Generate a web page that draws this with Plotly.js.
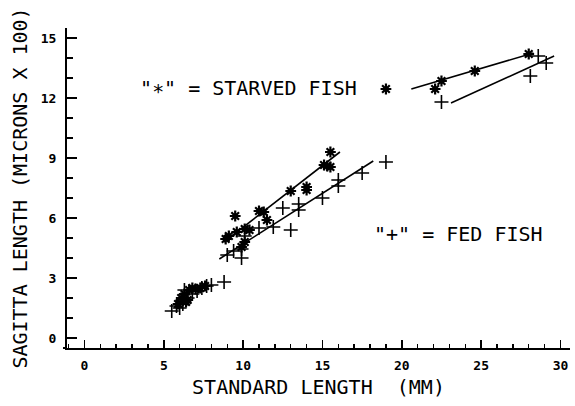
<!DOCTYPE html>
<html>
<head>
<meta charset="utf-8">
<script src="https://cdn.plot.ly/plotly-3.0.1.min.js"></script>
<style>html,body{margin:0;padding:0;background:#fff;}#chart{width:575px;height:406px;}</style>
</head>
<body>
<div id="chart"></div>
<script>
// Starved fish ("*") measurements
const starvedX = [5.9, 6.1, 6.3, 6.5, 6.6, 6.8, 7.0, 7.3, 7.6, 6.4,
  8.9, 9.1, 9.5, 9.6, 9.9, 10.1, 10.1, 10.4, 11.0, 11.3, 11.5, 13.0, 14.0, 14.0, 15.1, 15.3, 15.5, 15.5,
  19.0, 22.1, 22.5, 24.6, 28.0];
const starvedY = [1.7, 2.0, 2.2, 1.9, 2.4, 2.5, 2.45, 2.5, 2.6, 1.8,
  4.95, 5.1, 6.1, 5.3, 4.55, 4.8, 5.45, 5.4, 6.35, 6.3, 5.9, 7.35, 7.55, 7.4, 8.65, 8.6, 8.55, 9.3,
  12.45, 12.45, 12.85, 13.35, 14.2];
// Fed fish ("+") measurements
const fedX = [5.5, 5.8, 6.0, 6.2, 6.5, 6.8, 7.1, 7.4, 7.7, 8.0, 8.8, 6.3,
  9.0, 9.4, 9.9, 9.9, 10.1, 11.0, 11.9, 12.5, 13.0, 13.5, 13.5, 15.0, 16.0, 16.0, 17.5, 19.0,
  22.5, 28.1, 28.6, 29.1];
const fedY = [1.35, 1.6, 1.5, 1.7, 2.0, 2.2, 2.35, 2.5, 2.6, 2.65, 2.8, 2.4,
  4.15, 4.35, 4.45, 4.0, 5.1, 5.5, 5.55, 6.5, 5.4, 6.7, 6.4, 7.0, 7.9, 7.6, 8.25, 8.8,
  11.8, 13.1, 14.1, 13.75];
// Fitted lines (endpoints)
const starvedLineMidX = [8.8, 16.1];
const starvedLineMidY = [4.8, 9.3];
const fedLineMidX = [8.5, 18.2];
const fedLineMidY = [3.95, 8.85];
const starvedLineUpX = [20.6, 28.3];
const starvedLineUpY = [12.45, 14.25];
const fedLineUpX = [23.1, 29.6];
const fedLineUpY = [11.75, 14.1];

const xTicks = [0, 5, 10, 15, 20, 25, 30];
const yTicks = [0, 3, 6, 9, 12, 15];

const lineStyle = {color: '#000', width: 1.6};
const traces = [
  {x: starvedLineMidX, y: starvedLineMidY, mode: 'lines', line: lineStyle, hoverinfo: 'skip'},
  {x: fedLineMidX, y: fedLineMidY, mode: 'lines', line: lineStyle, hoverinfo: 'skip'},
  {x: starvedLineUpX, y: starvedLineUpY, mode: 'lines', line: lineStyle, hoverinfo: 'skip'},
  {x: fedLineUpX, y: fedLineUpY, mode: 'lines', line: lineStyle, hoverinfo: 'skip'},
  {x: starvedX, y: starvedY, mode: 'markers', name: 'Starved',
   marker: {symbol: 'asterisk-open', size: 9, color: '#000', line: {color: '#000', width: 2.2}}},
  {x: fedX, y: fedY, mode: 'markers', name: 'Fed',
   marker: {symbol: 'cross-thin-open', size: 10, color: '#000', line: {color: '#000', width: 1.6}}}
];

const textFont = {family: 'DejaVu Sans Mono', size: 20, color: '#000'};
const tickFont = {family: 'DejaVu Sans Mono', size: 13, color: '#000', weight: 700};

const layout = {
  width: 575, height: 406,
  margin: {l: 67, r: 5, t: 28, b: 58},
  paper_bgcolor: '#fff', plot_bgcolor: '#fff',
  showlegend: false,
  xaxis: {
    range: [-1.1, 30.6], tickvals: xTicks, ticktext: xTicks.map(String),
    ticks: 'inside', ticklen: 8, tickwidth: 1.5, tickcolor: '#000',
    showline: true, linecolor: '#000', linewidth: 2, showgrid: false, zeroline: false,
    tickfont: tickFont, ticklabelstandoff: 4,
    minor: {dtick: 1, tick0: 0, ticks: 'inside', ticklen: 4, tickwidth: 1.5, tickcolor: '#000', showgrid: false},
    title: {text: 'STANDARD LENGTH  (MM)', font: textFont, standoff: 8}
  },
  yaxis: {
    range: [-0.5, 15.5], tickvals: yTicks, ticktext: yTicks.map(String),
    ticks: 'inside', ticklen: 10, tickwidth: 1.5, tickcolor: '#000',
    showline: true, linecolor: '#000', linewidth: 2, showgrid: false, zeroline: false,
    tickfont: tickFont, ticklabelstandoff: 6,
    minor: {dtick: 1, tick0: 0, ticks: 'inside', ticklen: 6, tickwidth: 1.5, tickcolor: '#000', showgrid: false},
    title: {text: 'SAGITTA LENGTH (MICRONS X 100)', font: textFont, standoff: 8}
  },
  shapes: [
    {type: 'line', xref: 'paper', yref: 'paper', x0: -0.008, x1: 0, y0: 0, y1: 0, line: {color: '#000', width: 2}}
  ],
  annotations: [
    {x: 3.4, y: 12.5, xref: 'x', yref: 'y', xanchor: 'left', yanchor: 'middle', showarrow: false,
     text: '"\u2217" = STARVED FISH', font: textFont},
    {x: 18.15, y: 5.2, xref: 'x', yref: 'y', xanchor: 'left', yanchor: 'middle', showarrow: false,
     text: '"+" = FED FISH', font: textFont}
  ]
};

Plotly.newPlot('chart', traces, layout, {staticPlot: true, displayModeBar: false});
</script>
</body>
</html>
